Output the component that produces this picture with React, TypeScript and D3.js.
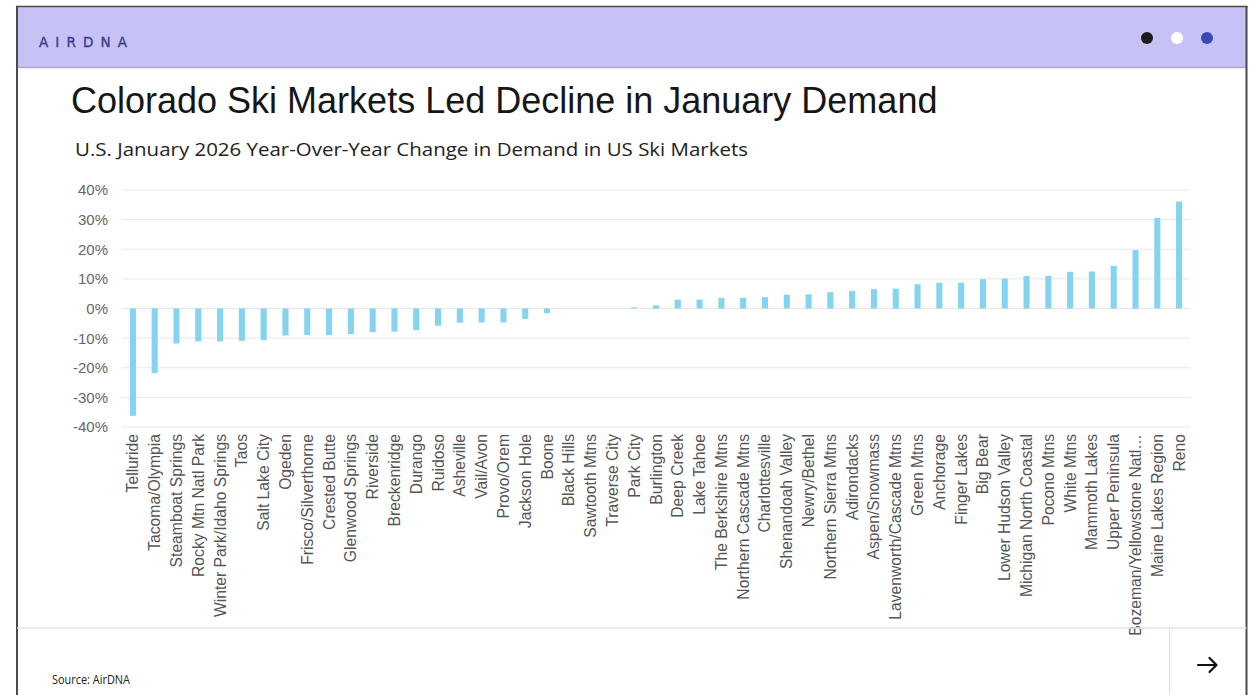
import React from "react";
import * as d3 from "d3";

const categories: string[] = [
  "Telluride", "Tacoma/Olympia", "Steamboat Springs", "Rocky Mtn Natl Park", "Winter Park/Idaho Springs",
  "Taos", "Salt Lake City", "Ogeden", "Frisco/Silverthorne", "Crested Butte", "Glenwood Springs",
  "Riverside", "Breckenridge", "Durango", "Ruidoso", "Asheville", "Vail/Avon", "Provo/Orem",
  "Jackson Hole", "Boone", "Black Hills", "Sawtooth Mtns", "Traverse City", "Park City", "Burlington",
  "Deep Creek", "Lake Tahoe", "The Berkshire Mtns", "Northern Cascade Mtns", "Charlottesville",
  "Shenandoah Valley", "Newry/Bethel", "Northern Sierra Mtns", "Adirondacks", "Aspen/Snowmass",
  "Lavenworth/Cascade Mtns", "Green Mtns", "Anchorage", "Finger Lakes", "Big Bear",
  "Lower Hudson Valley", "Michigan North Coastal", "Pocono Mtns", "White Mtns", "Mammoth Lakes",
  "Upper Peninsula", "Bozeman/Yellowstone Natl…", "Maine Lakes Region", "Reno",
];

const values: number[] = [
  -36.2, -21.8, -11.8, -11.1, -11.1,
  -10.9, -10.7, -9.1, -8.9, -8.9, -8.6,
  -8.0, -7.8, -7.3, -5.8, -4.8, -4.7, -4.7,
  -3.5, -1.6, 0, 0, 0, 0.4, 1.1,
  3.0, 3.0, 3.6, 3.6, 3.8,
  4.7, 4.8, 5.5, 5.9, 6.5,
  6.7, 8.2, 8.7, 8.7, 9.9,
  10.1, 11.0, 11.0, 12.4, 12.5,
  14.4, 19.7, 30.6, 36.1,
];

const yTicks: number[] = [-40, -30, -20, -10, 0, 10, 20, 30, 40];

const titleText = "Colorado Ski Markets Led Decline in January Demand";
const subtitleText = "U.S. January 2026 Year-Over-Year Change in Demand in US Ski Markets";
const sourceText = "Source: AirDNA";
const logoText = "AIRDNA";

export default function App() {
  const W = 1253;
  const H = 695;
  const plotLeft = 122;
  const plotRight = 1190;
  const plotTop = 190;
  const plotBottom = 427;

  const x = d3
    .scaleBand<string>()
    .domain(categories)
    .range([plotLeft, plotRight])
    .paddingInner(0.72)
    .paddingOuter(0.36);

  const y = d3.scaleLinear().domain([-40, 40]).range([plotBottom, plotTop]);
  const fmt = (v: number) => `${v}%`;

  const sans = "'Liberation Sans', Arial, Helvetica, sans-serif";
  const open = "'Open Sans', 'Noto Sans', sans-serif";

  return (
    <svg
      width={W}
      height={H}
      viewBox={`0 0 ${W} ${H}`}
      style={{ position: "absolute", left: 0, top: 0, background: "#fff" }}
    >
      {/* header band */}
      <rect x={17} y={7} width={1229.5} height={60} fill="#c6c2f5" />
      <line x1={17} x2={1246.5} y1={67.5} y2={67.5} stroke="#aeaad6" strokeWidth={1.5} />
      <text
        x={39}
        y={47}
        fontFamily="'DejaVu Sans', sans-serif"
        fontSize={13.5}
        fill="#3a3d8c"
        stroke="#3a3d8c"
        strokeWidth={0.35}
        textLength={88}
        lengthAdjust="spacing"
      >
        {logoText}
      </text>
      <circle cx={1147} cy={38} r={6} fill="#1b1b1f" />
      <circle cx={1177} cy={38} r={6} fill="#ffffff" />
      <circle cx={1207} cy={38} r={6} fill="#3a4bb0" />

      {/* frame */}
      <line x1={17} x2={17} y1={6} y2={H} stroke="#4a4a4a" strokeWidth={2} />
      <line x1={1246.5} x2={1246.5} y1={6} y2={H} stroke="#4a4a4a" strokeWidth={2} />
      <line x1={16} x2={1247.5} y1={6.5} y2={6.5} stroke="#4a4a4a" strokeWidth={1.5} />

      {/* titles */}
      <text x={71} y={113} fontFamily={sans} fontSize={36} fill="#161616">
        {titleText}
      </text>
      <text
        x={75}
        y={156}
        fontFamily={open}
        fontSize={17.5}
        fill="#222"
        textLength={673}
        lengthAdjust="spacingAndGlyphs"
      >
        {subtitleText}
      </text>

      {/* grid + y ticks */}
      {yTicks.map((t) => (
        <g key={t}>
          <line
            x1={plotLeft}
            x2={plotRight}
            y1={y(t)}
            y2={y(t)}
            stroke="#e6e6e6"
            strokeWidth={1}
          />
          <text
            x={108}
            y={y(t)}
            dy="0.36em"
            textAnchor="end"
            fontFamily={sans}
            fontSize={15}
            fill="#666"
          >
            {fmt(t)}
          </text>
        </g>
      ))}

      {/* bars */}
      {categories.map((c, i) => {
        const v = values[i];
        const y0 = y(Math.max(0, v));
        const h = Math.abs(y(v) - y(0));
        return (
          <rect
            key={c}
            x={x(c)}
            y={y0}
            width={x.bandwidth()}
            height={h}
            fill="#84d3ef"
          />
        );
      })}

      {/* x labels */}
      {categories.map((c) => {
        const cx = (x(c) as number) + x.bandwidth() / 2;
        return (
          <text
            key={c}
            transform={`translate(${cx},${434}) rotate(-90)`}
            dy="0.35em"
            textAnchor="end"
            fontFamily={sans}
            fontSize={15.7}
            fill="#555"
          >
            {c}
          </text>
        );
      })}

      {/* footer */}
      <line x1={17} x2={1246.5} y1={628} y2={628} stroke="#e4e4e4" strokeWidth={1.5} />
      <line x1={1169.5} x2={1169.5} y1={628} y2={H} stroke="#e0e0e0" strokeWidth={1} />
      <text
        x={52}
        y={684}
        fontFamily={open}
        fontSize={12.5}
        fill="#222"
        textLength={78}
        lengthAdjust="spacingAndGlyphs"
      >
        {sourceText}
      </text>
      <g stroke="#111" strokeWidth={2.2} fill="none" strokeLinecap="round" strokeLinejoin="round">
        <line x1={1198} x2={1216} y1={665} y2={665} />
        <polyline points="1209.5,658 1216.5,665 1209.5,672" />
      </g>
    </svg>
  );
}
